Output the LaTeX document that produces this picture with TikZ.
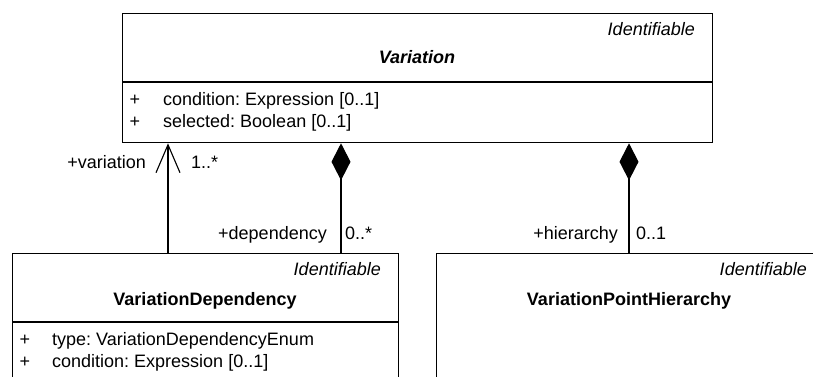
\documentclass[tikz,border=0pt]{standalone}
\usepackage{fontspec}
\setmainfont{Liberation Sans}
\usetikzlibrary{arrows.meta}
\frenchspacing
\begin{document}
\begin{tikzpicture}[x=1pt,y=-1pt,
  umlbox/.style={draw,line width=1.3pt,anchor=north west,inner sep=0pt},
  txt/.style={inner sep=0pt,font=\fontsize{18}{21.6}\selectfont},
  stereo/.style={txt,anchor=base east,font=\fontsize{18}{21.6}\selectfont\itshape},
  cname/.style={txt,anchor=base,font=\fontsize{18}{21.6}\selectfont\bfseries},
  vis/.style={txt,anchor=base},
  attr/.style={txt,anchor=base west},
  lblL/.style={txt,anchor=base east},
  lblR/.style={txt,anchor=base west},
  assoc/.style={line width=1.1pt},
  navig/.style={assoc,-{Straight Barb[length=28pt,width=24pt,line width=1.1pt]}},
  compo/.style={assoc,-{Turned Square[length=37pt,width=19pt]}}
]
\clip (0,0) rectangle (813,376);

% class Variation
\node[umlbox,minimum width=590pt,minimum height=129pt] (var) at (122,13) {};
\draw[line width=1.3pt] (var.west |- 0,82) -- (var.east |- 0,82);
\node[stereo] (varst) at (695,35) {Identifiable};
\node[cname,font=\fontsize{18}{21.6}\selectfont\bfseries\itshape] (varname) at (417,63) {Variation};
\node[vis] (varp1) at (135,105) {+};
\node[attr] (vara1) at (163,105) {condition: Expression [0..1]};
\node[vis] (varp2) at (135,127) {+};
\node[attr] (vara2) at (163,127) {selected: Boolean [0..1]};

% class VariationDependency
\node[umlbox,minimum width=386pt,minimum height=160pt] (vd) at (12,253) {};
\draw[line width=1.3pt] (vd.west |- 0,322) -- (vd.east |- 0,322);
\node[stereo] (vdst) at (381,275) {Identifiable};
\node[cname] (vdname) at (205,305) {VariationDependency};
\node[vis] (vdp1) at (25,345) {+};
\node[attr] (vda1) at (52,345) {type: VariationDependencyEnum};
\node[vis] (vdp2) at (25,367) {+};
\node[attr] (vda2) at (52,367) {condition: Expression [0..1]};

% class VariationPointHierarchy
\node[umlbox,minimum width=386pt,minimum height=160pt] (vph) at (436,253) {};
\node[stereo] (vphst) at (807,275) {Identifiable};
\node[cname] (vphname) at (629,305) {VariationPointHierarchy};

% connector anchor points on the class borders
\coordinate (nav) at (168,253);
\coordinate (dep) at (341,253);
\coordinate (hier) at (629,253);

% navigable association VariationDependency -> Variation
\draw[navig] (nav) -- (nav |- var.south);
\node[lblL] (navrole) at (146,168) {+variation};
\node[lblR] (navmult) at (191,168) {1..*};

% compositions owned by Variation
\draw[compo] (dep) -- (dep |- var.south);
\node[lblL] (deprole) at (327,239) {+dependency};
\node[lblR] (depmult) at (345,239) {0..*};

\draw[compo] (hier) -- (hier |- var.south);
\node[lblL] (hierrole) at (618,239) {+hierarchy};
\node[lblR] (hiermult) at (636,239) {0..1};
\end{tikzpicture}
\end{document}
